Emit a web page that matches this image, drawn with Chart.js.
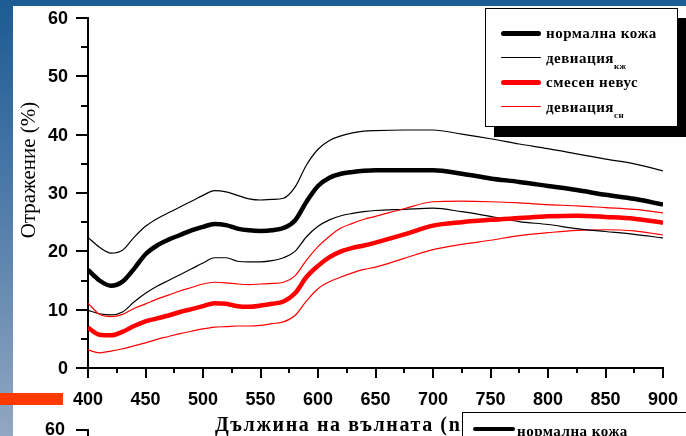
<!DOCTYPE html>
<html>
<head>
<meta charset="utf-8">
<script src="https://cdn.jsdelivr.net/npm/chart.js@4.4.1/dist/chart.umd.min.js"></script>
<style>
  html, body { margin: 0; padding: 0; }
  body {
    width: 686px; height: 436px; overflow: hidden; position: relative;
    background: linear-gradient(to bottom, #1c5b93 0%, #4d7aa8 45%, #92a7c2 100%);
  }
  #panel { position: absolute; left: 13px; top: 6px; right: 0; bottom: 0; background: #fff; }
  #bar { position: absolute; left: 0; top: 393px; width: 63px; height: 12px; background: #ff3a00; }
  #chartWrap { position: absolute; left: 0; top: 0; width: 686px; height: 436px; }
  .legend {
    position: absolute; background: #fff; border: 1.5px solid #000;
    box-shadow: 9px 10px 0 #000;
    font-family: "Liberation Serif", "DejaVu Serif", serif; font-weight: bold;
    font-size: 15px; letter-spacing: 0.5px; color: #000;
  }
  #legend { left: 485px; top: 8px; width: 191px; height: 117px; }
  .item { position: absolute; left: 0; height: 20px; width: 190px; }
  .swatch { position: absolute; left: 15px; width: 40px; border-radius: 3px; }
  .label { position: absolute; left: 60px; top: 0; line-height: 20px; white-space: nowrap; }
  .label sub { font-size: 9px; position: relative; top: 6px; vertical-align: baseline; }
  #legend2 { left: 462px; top: 412px; width: 240px; height: 60px; }
  #tick60 { position: absolute; left: 45px; top: 419px; font: bold 18px "Liberation Sans", Arial, sans-serif; }
  #axis2 { position: absolute; left: 76px; top: 429px; width: 11px; height: 10px;
           border-top: 2px solid #000; border-right: 2px solid #000; }
</style>
</head>
<body>
<div id="panel"></div>
<div id="bar"></div>
<div id="chartWrap"><canvas id="chart" width="686" height="436"></canvas></div>
<div id="legend" class="legend"></div>
<div id="tick60">60</div>
<div id="axis2"></div>
<div id="legend2" class="legend">
  <div class="item" style="top:6px">
    <div class="swatch" style="left:10px;width:42px;top:8px;height:4px;background:#000"></div>
    <div class="label" style="left:54px;top:2px">нормална кожа</div>
  </div>
</div>
<script>
// wavelength, nm
const wavelengths = [400, 410, 420, 430, 440, 450, 460, 470, 480, 490, 500, 510, 520, 530, 540, 550,
    560, 570, 580, 590, 600, 610, 620, 630, 640, 650, 675, 700, 725, 750, 775, 800, 825, 850, 875, 900];

// reflectance, %
const normalSkin = [16.8, 15.0, 14.1, 14.8, 17.0, 19.5, 21.0, 22.0, 22.8, 23.6, 24.2, 24.7, 24.5, 23.9, 23.6, 23.5,
    23.6, 24.0, 25.3, 28.5, 31.2, 32.6, 33.3, 33.6, 33.8, 33.9, 33.9, 33.9, 33.3, 32.5, 31.9, 31.2, 30.5, 29.7, 29.0, 28.0];
const normalDevUp = [22.4, 20.7, 19.7, 20.2, 22.4, 24.3, 25.6, 26.6, 27.6, 28.6, 29.6, 30.4, 30.2, 29.6, 29.0, 28.8,
    28.9, 29.1, 31.0, 34.8, 37.5, 39.0, 39.8, 40.3, 40.6, 40.7, 40.8, 40.8, 40.1, 39.3, 38.4, 37.6, 36.7, 35.8, 35.0, 33.8];
const normalDevLow = [9.9, 9.3, 9.1, 9.6, 11.3, 12.8, 14.0, 15.0, 16.0, 17.0, 18.0, 18.9, 18.9, 18.3, 18.2, 18.2,
    18.4, 18.9, 20.0, 22.5, 24.3, 25.4, 26.1, 26.5, 26.8, 27.0, 27.2, 27.4, 26.8, 26.0, 25.1, 24.6, 23.9, 23.4, 22.9, 22.3];
const nevus = [6.9, 5.7, 5.6, 6.2, 7.2, 8.0, 8.5, 9.0, 9.6, 10.1, 10.6, 11.1, 11.0, 10.6, 10.5, 10.7,
    11.0, 11.4, 12.8, 15.6, 17.5, 19.0, 20.0, 20.6, 21.0, 21.5, 22.9, 24.4, 25.0, 25.4, 25.7, 26.0, 26.1, 25.9, 25.6, 24.9];
const nevusDevUp = [11.1, 9.2, 8.8, 9.2, 10.2, 11.0, 11.8, 12.5, 13.2, 13.8, 14.4, 14.7, 14.6, 14.4, 14.3, 14.4,
    14.5, 14.7, 15.8, 18.5, 20.8, 22.6, 24.0, 24.8, 25.5, 26.0, 27.3, 28.5, 28.6, 28.5, 28.3, 28.0, 27.8, 27.5, 27.2, 26.6];
const nevusDevLow = [3.1, 2.6, 2.9, 3.3, 3.8, 4.3, 4.9, 5.4, 5.9, 6.3, 6.7, 7.0, 7.1, 7.2, 7.2, 7.3,
    7.6, 7.9, 9.0, 11.5, 13.6, 14.8, 15.6, 16.3, 16.9, 17.3, 18.8, 20.3, 21.2, 21.9, 22.7, 23.2, 23.6, 23.7, 23.5, 22.8];

const xTicks = [400, 450, 500, 550, 600, 650, 700, 750, 800, 850, 900];
const yTicks = [0, 10, 20, 30, 40, 50, 60];

const xTitle = 'Дължина на вълната (nm)';
const yTitle = 'Отражение (%)';

function points(values) {
    return values.map((v, i) => ({ x: wavelengths[i], y: v }));
}

function line(label, sub, values, color, width) {
    return {
        label: label,
        sub: sub,
        data: points(values),
        borderColor: color,
        borderWidth: width,
        pointRadius: 0,
        fill: false,
        cubicInterpolationMode: 'monotone'
    };
}

const datasets = [
    line('нормална кожа', '', normalSkin, '#000000', 4.5),
    line('девиация', 'кж', normalDevUp, '#000000', 1.2),
    line('смесен невус', '', nevus, '#ff0000', 4.5),
    line('девиация', 'сн', nevusDevUp, '#ff0000', 1.2),
    line('девиация', 'кж', normalDevLow, '#000000', 1.2),
    line('девиация', 'сн', nevusDevLow, '#ff0000', 1.2)
];

const tickFont = 'bold 18px "Liberation Sans", Arial, sans-serif';

// tick marks, tick labels and axis titles
const decor = {
    id: 'decor',
    afterDraw(chart) {
        const ctx = chart.ctx;
        const xs = chart.scales.x;
        const ys = chart.scales.y;
        ctx.save();
        ctx.strokeStyle = '#000';
        ctx.lineWidth = 2;
        ctx.beginPath();
        for (let v = 0; v <= 60; v += 5) {
            const py = Math.round(ys.getPixelForValue(v));
            const len = v % 10 === 0 ? 12 : 7;
            ctx.moveTo(ys.right - len, py);
            ctx.lineTo(ys.right, py);
        }
        for (let v = 400; v <= 900; v += 25) {
            const px = Math.round(xs.getPixelForValue(v));
            const len = v % 50 === 0 ? 10 : 5;
            ctx.moveTo(px, xs.top);
            ctx.lineTo(px, xs.top + len);
        }
        ctx.stroke();

        ctx.fillStyle = '#000';
        ctx.font = tickFont;
        ctx.textAlign = 'right';
        ctx.textBaseline = 'middle';
        yTicks.forEach(v => ctx.fillText(String(v), ys.right - 20, ys.getPixelForValue(v) + 1));
        ctx.textAlign = 'center';
        ctx.textBaseline = 'top';
        xTicks.forEach(v => ctx.fillText(String(v), xs.getPixelForValue(v), xs.top + 23));

        ctx.font = '21px "Liberation Serif", serif';
        ctx.textAlign = 'center';
        ctx.textBaseline = 'middle';
        ctx.translate(29, 170);
        ctx.rotate(-Math.PI / 2);
        ctx.fillText(yTitle, 0, 0);
        ctx.restore();

        ctx.save();
        ctx.fillStyle = '#000';
        ctx.font = 'bold 20px "Liberation Serif", serif';
        ctx.letterSpacing = '1.6px';
        ctx.textAlign = 'left';
        ctx.textBaseline = 'alphabetic';
        ctx.fillText(xTitle, 215, 431);
        ctx.restore();
    }
};

new Chart(document.getElementById('chart'), {
    type: 'line',
    data: { datasets: datasets },
    options: {
        responsive: false,
        animation: false,
        layout: { padding: { left: 0, top: 18, right: 23, bottom: 0 } },
        plugins: { legend: { display: false }, tooltip: { enabled: false } },
        scales: {
            x: {
                type: 'linear',
                min: 400,
                max: 900,
                afterFit: (s) => { s.height = 68; },
                ticks: { display: false },
                grid: { display: true, drawOnChartArea: false, drawTicks: false },
                border: { display: true, color: '#000', width: 2 }
            },
            y: {
                min: 0,
                max: 60,
                afterFit: (s) => { s.width = 88; },
                ticks: { display: false },
                grid: { display: true, drawOnChartArea: false, drawTicks: false },
                border: { display: true, color: '#000', width: 2 }
            }
        }
    },
    plugins: [decor]
});

// legend box from the first four datasets
const legend = document.getElementById('legend');
datasets.slice(0, 4).forEach((ds, i) => {
    const item = document.createElement('div');
    item.className = 'item';
    item.style.top = (14 + i * 24.5) + 'px';
    const sw = document.createElement('div');
    sw.className = 'swatch';
    const h = ds.borderWidth > 2 ? 5 : 1.3;
    sw.style.height = h + 'px';
    sw.style.top = (10 - h / 2) + 'px';
    sw.style.background = ds.borderColor;
    item.appendChild(sw);
    const lb = document.createElement('div');
    lb.className = 'label';
    lb.innerHTML = ds.label + (ds.sub ? '<sub>' + ds.sub + '</sub>' : '');
    item.appendChild(lb);
    legend.appendChild(item);
});
</script>
</body>
</html>
